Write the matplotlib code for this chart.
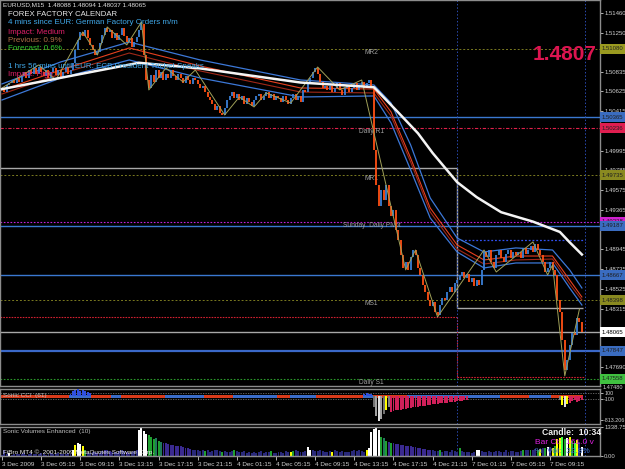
import matplotlib
matplotlib.use("Agg")
import matplotlib.pyplot as plt

plt.rcParams["font.family"] = ["Liberation Sans", "DejaVu Sans"]

W, H = 625, 469


def box(x0, y0, x1, y1):
    return [x0 / W, 1 - y1 / H, (x1 - x0) / W, (y1 - y0) / H]


# %% price data (M15 closes, bar index 0 = 3 Dec 01:15)
closes = [
    1.5066, 1.5062, 1.5069, 1.5071, 1.5075, 1.5071, 1.5077, 1.5073,
    1.5079, 1.5083, 1.5077, 1.5085, 1.5081,
    1.5087, 1.5081, 1.5089, 1.5083, 1.5079, 1.5085, 1.5077, 1.5083,
    1.5087, 1.5080, 1.5085, 1.5077, 1.5083, 1.5089, 1.5081, 1.5085,
    1.5093, 1.5107, 1.5117, 1.5126, 1.5122, 1.5128, 1.5119,
    1.5112, 1.5107, 1.5101, 1.5104, 1.5114, 1.5123, 1.5130, 1.5126,
    1.5128, 1.5119, 1.5125, 1.5117, 1.5123, 1.5130, 1.5121, 1.5115, 1.5119,
    1.5110, 1.5115, 1.5120, 1.5128, 1.5134,
    1.5101, 1.5075, 1.5066,
    1.5080, 1.5073, 1.5085, 1.5077, 1.5083, 1.5075, 1.5081, 1.5077, 1.5085,
    1.5079, 1.5075, 1.5081, 1.5077, 1.5072, 1.5079, 1.5075, 1.5070, 1.5077,
    1.5075, 1.5070, 1.5066, 1.5068, 1.5062, 1.5057, 1.5053,
    1.5049, 1.5043, 1.5047, 1.5040, 1.5037,
    1.5045, 1.5053, 1.5058, 1.5062, 1.5055, 1.5060,
    1.5053, 1.5058, 1.5049, 1.5055, 1.5051, 1.5047, 1.5053, 1.5058,
    1.5060, 1.5053, 1.5058, 1.5062, 1.5055, 1.5060, 1.5053, 1.5058,
    1.5055, 1.5051, 1.5058, 1.5053, 1.5049, 1.5055, 1.5060, 1.5053,
    1.5058, 1.5051, 1.5064, 1.5062,
    1.5071, 1.5077, 1.5083, 1.5087,
    1.5081, 1.5073, 1.5066, 1.5068, 1.5064,
    1.5068, 1.5062, 1.5066, 1.5071, 1.5064, 1.5059, 1.5066, 1.5068, 1.5062,
    1.5066, 1.5071, 1.5064, 1.5068, 1.5073, 1.5066, 1.5071, 1.5075, 1.5066,
    1.5000, 1.4963, 1.4941,
    1.4958, 1.4947, 1.4963, 1.4941,
    1.4930, 1.4936, 1.4915, 1.4904,
    1.4889, 1.4875, 1.4881, 1.4873,
    1.4886, 1.4894, 1.4889,
    1.4875, 1.4867, 1.4857, 1.4849, 1.4841,
    1.4834, 1.4838, 1.4828, 1.4825,
    1.4835, 1.4843, 1.4841, 1.4849, 1.4854, 1.4849, 1.4859,
    1.4862, 1.4866, 1.4870, 1.4864, 1.4868, 1.4860, 1.4864, 1.4856, 1.4862,
    1.4857, 1.4873, 1.4892,
    1.4886, 1.4894, 1.4881, 1.4875, 1.4888, 1.4894, 1.4885, 1.4881, 1.4890,
    1.4894, 1.4885, 1.4892, 1.4888,
    1.4892, 1.4885, 1.4896, 1.4890, 1.4894, 1.4898, 1.4892, 1.4900, 1.4894,
    1.4888, 1.4881, 1.4870, 1.4875,
    1.4881, 1.4873, 1.4867,
    1.4841, 1.4828, 1.4798,
    1.4766, 1.4777,
    1.4793, 1.4806, 1.4803, 1.4821,
    1.4817, 1.48065,
]

# moving average envelope (read at a few bars)
band_idx = [0, 24, 52, 81, 122, 152, 159, 167, 175, 186, 197, 210, 225, 232, 237]
band_upper = [1.50705, 1.50939, 1.51151, 1.50960, 1.50747, 1.50694, 1.50502, 1.50056,
              1.49492, 1.49066, 1.48917, 1.48960, 1.48938, 1.48726, 1.48534]
band_mid = [1.50641, 1.50853, 1.51088, 1.50896, 1.50662, 1.50651, 1.50407, 1.49917,
            1.49385, 1.48992, 1.48832, 1.48874, 1.48874, 1.48619, 1.48438]
band_mid2 = [1.50598, 1.50811, 1.51034, 1.50843, 1.50619, 1.50609, 1.50364, 1.49875,
             1.49343, 1.48949, 1.48789, 1.48832, 1.48842, 1.48577, 1.48406]
band_lower = [1.50534, 1.50768, 1.50960, 1.50768, 1.50566, 1.50577, 1.50290, 1.49790,
              1.49279, 1.48917, 1.48747, 1.48800, 1.48800, 1.48534, 1.48353]

slow_idx = [0, 28, 56, 81, 100, 122, 140, 152, 162, 170, 176, 186, 194, 204, 217, 228, 232, 237]
slow_ma = [1.5065, 1.5079, 1.5093, 1.5087, 1.5080, 1.5072, 1.5069, 1.5067, 1.5040,
           1.5018, 1.4997, 1.4966, 1.4950, 1.4934, 1.4924, 1.4913, 1.4902, 1.4889]

zz_idx = [0, 15, 22, 33, 39, 43, 51, 57, 60, 67, 74, 79, 91, 97, 103, 108, 118, 129,
          138, 147, 165, 169, 178, 197, 202, 217, 223, 225, 230, 236]
zz_val = [1.50662, 1.50907, 1.50747, 1.51258, 1.51013, 1.51311, 1.51120, 1.51364,
          1.50641, 1.50875, 1.50726, 1.50853, 1.50375, 1.50566, 1.50460, 1.50609,
          1.50502, 1.50885, 1.50641, 1.50747, 1.48726, 1.48938, 1.48226, 1.48938,
          1.48704, 1.49024, 1.48672, 1.48779, 1.47598, 1.48310]

# horizontal levels
full_levels = [1.51077, 1.50353, 1.50236, 1.49736, 1.49236, 1.49194, 1.48672,
               1.48406, 1.48065, 1.47864, 1.47566]
full_colors = ["#7a7a20", "#3a78d0", "#e0204a", "#7a7a20", "#c020d8", "#3a78d0",
               "#3a78d0", "#7a7a20", "#a8a8a8", "#3a68c8", "#2a9a2a"]
full_styles = [(0, (2, 2)), "-", (0, (3, 1.5, 1, 1.5)), (0, (2, 2)), (0, (1.5, 1.5)), "-",
               "-", (0, (2, 2)), "-", "-", (0, (1.5, 1.5))]
full_widths = [0.7, 1.0, 0.8, 0.7, 0.8, 1.0, 1.0, 0.7, 1.0, 1.6, 0.8]

pivot_names = ["MR2", "Daily R1", "MR1", "Sunday  Daily Pivot", "MS1", "Daily S1"]
pivot_prices = [1.51077, 1.50236, 1.49736, 1.49194, 1.48406, 1.47566]

axis_prices = [1.51077, 1.50353, 1.50236, 1.49736, 1.49236, 1.49194, 1.48672,
               1.48406, 1.48065, 1.47864, 1.47566]
axis_texts = ["1.51080", "1.50365", "1.50236", "1.49735", "1.49238", "1.49187",
              "1.48667", "1.48398", "1.48065", "1.47847", "1.47558"]
axis_faces = ["#9a9a20", "#3a6cc0", "#e01e50", "#8a8a20", "#d020d0", "#3a6cc0",
              "#3a6cc0", "#8a8a20", "#ffffff", "#3a6cc0", "#40c040"]

# scale labels that stay visible beside the coloured level boxes
price_ticks = [1.51460, 1.51250, 1.50835, 1.50625, 1.50415, 1.49995,
               1.49785, 1.49575, 1.49365, 1.48945, 1.48735, 1.48525, 1.48315,
               1.47690]

time_idx = [0, 16, 32, 48, 64, 80, 96, 112, 128, 144, 160, 176, 192, 208, 224]
time_labels = ["3 Dec 2009", "3 Dec 05:15", "3 Dec 09:15", "3 Dec 13:15", "3 Dec 17:15",
               "3 Dec 21:15", "4 Dec 01:15", "4 Dec 05:15", "4 Dec 09:15", "4 Dec 13:15",
               "4 Dec 17:15", "4 Dec 21:15", "7 Dec 01:15", "7 Dec 05:15", "7 Dec 09:15"]
separators = [185.9, 238.3]

# Sonic CCI
cci_trend = ("r" * 28 + "b" * 9 + "r" * 8 + "b" * 4 + "r" * 18 + "b" * 16 + "r" * 12
             + "b" * 18 + "r" * 5 + "b" * 11 + "r" * 19 + "b" * 4 + "r" * 14 + "b" * 38
             + "r" * 12 + "b" * 9 + "r" * 13)
cci_idx = list(range(28, 37)) + list(range(148, 152)) + list(range(152, 191)) + list(range(228, 238))
cci_val = [80, 150, 200, 220, 180, 210, 160, 120, 90,
           60, 90, 80, 50,
           -350, -650, -820, -780, -600, -450, -380,
           -520, -500, -480, -470, -450, -430, -420, -400, -390, -380, -370, -350,
           -340, -330, -320, -300, -290, -280, -270, -260, -250, -240, -230, -220,
           -210, -200, -190, -180, -170, -160, -150, -130,
           -150, -300, -350, -280, -250, -180, -120, -200, -180, -150]
cci_col = (["#3050e0"] * 9 + ["#3050e0"] * 4
           + ["#707070", "#a0a0a0", "#e0e0e0", "#a0a0a0", "#707070", "#ffff00", "#808080"]
           + ["#d0205a"] * 32
           + ["#808080", "#ffff00", "#e0e0e0", "#ffff00", "#d0205a", "#d0205a", "#d0205a",
              "#d0205a", "#d0205a", "#d0205a"])

# Sonic volumes
volume = [
    60, 300, 80, 120, 60, 90, 70, 100,
    80, 120, 60, 100, 140, 90, 70, 110, 130, 80, 60, 100, 120, 90, 70, 150, 110, 80, 100, 130, 90,
    300, 520, 620, 560, 480, 300,
    150, 120, 180, 200, 160, 140, 220, 260, 300, 240, 180, 200, 160, 220, 260, 240, 180, 150, 200, 240, 300,
    1200, 1300, 1150, 1000,
    950, 900, 800, 850, 700, 650,
    600, 580, 560, 520, 500, 480, 460, 440, 400, 380, 360, 340,
    300, 280, 260, 240, 280, 220, 260, 200, 240, 300, 260, 220, 200, 240, 180, 200, 220, 260, 240, 200, 180, 220, 160,
    180, 160, 200, 140, 180, 220, 160, 200, 180, 240, 160, 140, 200, 180, 160, 220, 200, 180, 240, 260, 220, 200, 180, 240, 400,
    300, 260, 240, 220, 280, 240, 200, 180, 220, 200, 260, 240, 180, 220, 200,
    180, 200, 240, 260, 220, 300, 240, 200, 260, 380,
    1100, 1250, 1300, 1200, 900, 850, 700, 650, 600, 580,
    560, 540, 520, 500, 480, 460, 440, 420, 400, 380, 360, 340, 320, 300, 280,
    260, 240, 220, 280, 200, 240, 220, 180, 260, 240, 200, 380, 220, 200, 180,
    200, 160, 180, 260, 300, 240, 200, 180, 220, 200,
    180, 220, 240, 200, 180, 260, 200, 240, 220, 180, 200, 240, 260, 300, 280,
    260, 300, 340, 280, 320, 380, 360, 400, 420, 380, 440,
    800, 850, 900, 780, 820, 880, 700, 600, 750, 650, 400,
]
vol_codes = ("nnnwnnnn" + "n" * 21 + "wywwyg" + "nnnnpnnpnpnnnnnnpnnnn" + "wwww" + "gggtgt"
             + "p" * 12 + "nnnnngnnnnnngnnnngnnnnn" + "nnnnnnnnngnnnnnnnygnnnnnw"
             + "wnnnnnnnnynnnnn" + "nnnnnnnnyw" + "wwwwgtgpgp" + "p" * 15
             + "nnngnnnnnnngnnn" + "nnnwwnnnnn" + "nnnnnnnnnnnngnn" + "gnngyngwnyg"
             + "yylgwyglynw")
vol_palette = {"n": "#28287a", "p": "#3a2a90", "g": "#20a030", "t": "#207a5a",
               "l": "#40ff40", "y": "#ffff00", "w": "#ffffff"}

# %%
fig = plt.figure(figsize=(W / 100, H / 100), dpi=100, facecolor="black")
ax = fig.add_axes(box(0, 0, 600, 386))
ax_cci = fig.add_axes(box(0, 389, 600, 424))
ax_vol = fig.add_axes(box(0, 427, 600, 456))

xlim = (-0.82, 244.4)
for a in (ax, ax_cci, ax_vol):
    a.set_facecolor("black")
    a.set_xlim(*xlim)
    for s in a.spines.values():
        s.set_color("#8c8c8c")
        s.set_linewidth(1.0)
    a.tick_params(axis="y", left=False, labelleft=False, right=True, labelright=True,
                  colors="#d0d0d0", labelsize=4.3, length=2, width=0.6, pad=1)
    a.tick_params(axis="x", bottom=False, labelbottom=False)

# main price panel
ax.set_ylim(1.47491, 1.51598)
ax.set_yticks(price_ticks)
ax.set_yticklabels([f"{v:.5f}" for v in price_ticks])

for v, c, ls, lw in zip(full_levels, full_colors, full_styles, full_widths):
    ax.axhline(v, color=c, ls=ls, lw=lw, zorder=1)

sep = separators[0]
ax.hlines(1.49811, xlim[0], sep, color="#a8a8a8", lw=1.0, zorder=1)
ax.vlines(sep, 1.48321, 1.49811, color="#a8a8a8", lw=1.0, zorder=1)
ax.hlines(1.48321, sep, 237.5, color="#a8a8a8", lw=1.0, zorder=1)
ax.hlines(1.48226, xlim[0], sep, color="#d02030", lw=0.8, ls=(0, (1.5, 1)), zorder=1)
ax.vlines(sep, 1.47587, 1.48226, color="#d02030", lw=0.8, ls=(0, (1.5, 1)), zorder=1)
ax.hlines(1.47587, sep, 238.3, color="#d02030", lw=0.8, ls=(0, (1.5, 1)), zorder=1)
ax.hlines(1.49045, sep, 238.3, color="#3050f0", lw=0.9, ls=(0, (1.5, 1.5)), zorder=1)
for s in separators:
    for a in (ax, ax_cci, ax_vol):
        a.axvline(s, color="#2a4ab0", lw=0.7, ls=(0, (1.5, 2)), zorder=1)

for name, p in zip(pivot_names, pivot_prices):
    ax.text(151, p, name, color="#a0a0a0", fontsize=4.8, ha="center",
            va="center" if "Pivot" in name else "top", zorder=2)

ax.plot(band_idx, band_upper, color="#3c78d8", lw=0.9, zorder=3)
ax.plot(band_idx, band_lower, color="#3c78d8", lw=0.9, zorder=3)
ax.plot(band_idx, band_mid, color="#e8401e", lw=0.8, zorder=3)
ax.plot(band_idx, band_mid2, color="#a02818", lw=0.8, zorder=3)

idx = list(range(len(closes)))
opens = [closes[0]] + closes[:-1]
cols = ["#3a7fd5" if c >= o else "#ff5014" for o, c in zip(opens, closes)]
ax.vlines(idx, [min(o, c) for o, c in zip(opens, closes)],
          [max(o, c) for o, c in zip(opens, closes)], colors=cols, lw=1.3, zorder=4)
ax.plot(zz_idx, zz_val, color="#a0a058", lw=0.7, zorder=5)
ax.plot(slow_idx, slow_ma, color="#f4f4f4", lw=1.8, zorder=6)

ytr = ax.get_yaxis_transform()
for p, t, fc in zip(axis_prices, axis_texts, axis_faces):
    ax.text(1.003, p, t, transform=ytr, fontsize=4.3, color="#000000" if fc == "#ffffff" else "#202020",
            va="center", ha="left", clip_on=False, zorder=10,
            bbox=dict(boxstyle="square,pad=0.35", fc=fc, ec="none"))
ax.text(1.005, 1.47480, "1.47480", transform=ytr, fontsize=4.0, color="#d0d0d0",
        va="center", ha="left", clip_on=False)

# header texts
def ftext(x, y, s, **kw):
    fig.text(x / W, 1 - y / H, s, va="center", ha="left", **kw)


ftext(3, 5, "EURUSD,M15  1.48088 1.48094 1.48037 1.48065", color="#e0e0e0", fontsize=4.6)
ftext(8, 14, "FOREX FACTORY CALENDAR", color="#e8e8e8", fontsize=5.6)
ftext(8, 23, "4 mins since EUR: German Factory Orders m/m", color="#40a8e8", fontsize=5.8)
ftext(8, 32, "Impact: Medium", color="#e0206a", fontsize=5.8)
ftext(8, 40, "Previous: 0.9%", color="#b07048", fontsize=5.8)
ftext(8, 48, "Forecast: 0.6%", color="#30d030", fontsize=5.8)
ftext(8, 67, "1 hrs 56 mins until EUR: ECB President Trichet Speaks", color="#40a8e8", fontsize=5.8)
ftext(8, 75, "Impact: High", color="#e0206a", fontsize=5.8)
ftext(533, 55, "1.4807", color="#dc1450", fontsize=15, fontweight="bold")

# CCI panel
ax_cci.set_ylim(-933, 233)
ax_cci.set_yticks([100, -100, -813.206])
ax_cci.set_yticklabels(["100", "-100", "-813.206"])
ax_cci.tick_params(axis="y", labelsize=3.9)
trend_col = {"r": "#d83a1a", "b": "#3a6cc8"}
ax_cci.bar(idx, 90, bottom=-60, width=1.0, color=[trend_col[c] for c in cci_trend], zorder=2)
ax_cci.bar(cci_idx, cci_val, width=0.8, color=cci_col, zorder=3)
for lv in (100, -100):
    ax_cci.axhline(lv, color="#707070", lw=0.6, ls=(0, (1.5, 1.5)), zorder=1)
ax_cci.text(0.005, 0.82, "Sonic CCI  (61)", transform=ax_cci.transAxes, color="#c0c0c0",
            fontsize=4.6, va="center", zorder=5)

# volume panel
ax_vol.set_ylim(0, 1340)
ax_vol.set_yticks([1338.75, 0])
ax_vol.set_yticklabels(["1338.75", "0.00"])
ax_vol.bar(idx, volume, width=0.8, color=[vol_palette[c] for c in vol_codes], zorder=2)
ax_vol.text(0.005, 0.84, "Sonic Volumes Enhanced  (10)", transform=ax_vol.transAxes,
            color="#c0c0c0", fontsize=4.6, va="center", zorder=5)
ax_vol.text(0.005, 0.14, "FiBro MT4 ©, 2001-2009 MetaQuotes Software Corp.", transform=ax_vol.transAxes,
            color="#f0f0f0", fontsize=4.6, va="center", zorder=5)
ftext(542, 432, "Candle:  10:34", color="#f0f0f0", fontsize=6.2, fontweight="bold")
ftext(535, 442, "Bar Ct:  161.0 v", color="#e020e0", fontsize=6.0)
ftext(535, 451, "%  Vol:  32.8%", color="#4070d0", fontsize=6.0)

ax_vol.tick_params(axis="x", bottom=True, labelbottom=True, colors="#d0d0d0",
                   labelsize=4.6, length=3, width=0.6, pad=1)
ax_vol.set_xticks(time_idx)
ax_vol.set_xticklabels(time_labels, ha="left")

fig.savefig("out.png", dpi=100, facecolor="black")
